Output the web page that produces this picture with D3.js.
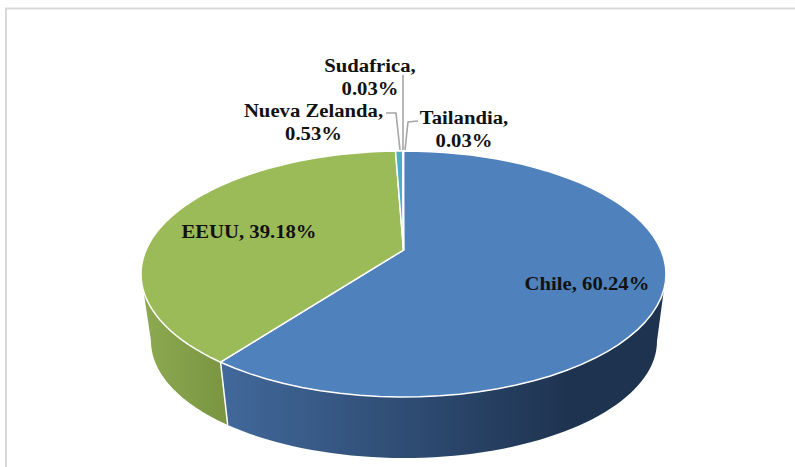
<!DOCTYPE html>
<html><head><meta charset="utf-8">
<script src="https://cdn.jsdelivr.net/npm/d3@7/dist/d3.min.js"></script>
<style>html,body{margin:0;padding:0;background:#fff}svg{display:block}</style>
</head><body><script>
const categories = ["Chile","EEUU","Nueva Zelanda","Sudafrica","Tailandia"];
const shares = [60.24,39.18,0.53,0.03,0.03];
const labelLines = [["Chile, 60.24%"],["EEUU, 39.18%"],["Nueva Zelanda,","0.53%"],["Sudafrica,","0.03%"],["Tailandia,","0.03%"]];
const topColors = ["#4f81bd","#9bbb59","#4bacc6","#4bacc6","#4f81bd"];
const labelAnchor = [[587,290],[249,238],[313.5,117],[370,72],[464,124]];
const leaders = [null,null,[[386,113],[396,113],[400,150]],[[403,75],[403,150]],[[418,121],[408,122],[405,150]]];

const W=795,H=467;
const svg=d3.select("body").append("svg").attr("width",W).attr("height",H);
const defs=svg.append("defs");
function grad(id,x1,x2,c1,c2){
  const g=defs.append("linearGradient").attr("id",id).attr("gradientUnits","userSpaceOnUse")
    .attr("x1",x1).attr("x2",x2).attr("y1",0).attr("y2",0);
  g.append("stop").attr("offset",0).attr("stop-color",c1);
  g.append("stop").attr("offset",1).attr("stop-color",c2);
}
grad("wallBlue",225,570,"#41689a","#1e3350");
grad("wallGreen",150,228,"#8ba84f","#7a9440");

svg.append("rect").attr("x",6).attr("y",8.5).attr("width",W+20).attr("height",H+20)
  .attr("fill","#fff").attr("stroke","#d9d9d9").attr("stroke-width",2);

// perspective: the disk centre sits above the ellipse centre
const beta=-0.195;
const topX=d3.scaleLinear().domain([-1,1]).range([141,666]);
const topY=d3.scaleLinear().domain([-1,1]).range([151,397]);
const botX=d3.scaleLinear().domain([-1,1]).range([151,657]);
const botY=d3.scaleLinear().domain([-1,1]).range([224,458]);
function proj(a){
  const x=Math.sin(a),y=-Math.cos(a),w=1+beta*y;
  return [x*Math.sqrt(1-beta*beta)/w,(y+beta)/w];
}
const onTop=a=>{const p=proj(a);return [topX(p[0]),topY(p[1])];};
const onBot=a=>{const p=proj(a);return [botX(p[0]),botY(p[1])];};
const hub=[topX(0),topY(beta)];
const arcs=d3.pie().sort(null)(shares);
const line=d3.line();
const samples=(a0,a1)=>d3.range(0,61).map(i=>a0+(a1-a0)*i/60);

// walls: only the part of the rim facing the viewer
const aRight=Math.acos(beta), aLeft=2*Math.PI-aRight;
const walls=[{i:0,fill:"url(#wallBlue)"},{i:1,fill:"url(#wallGreen)"}];
walls.forEach(w=>{
  const a0=Math.max(arcs[w.i].startAngle,aRight), a1=Math.min(arcs[w.i].endAngle,aLeft);
  const s=samples(a0,a1);
  svg.append("path").attr("d",line(s.map(onTop).concat(s.slice().reverse().map(onBot)))+"Z")
    .attr("fill",w.fill);
});
// seam between the two visible walls
svg.append("path").attr("d",line([onTop(arcs[0].endAngle),onBot(arcs[0].endAngle)]))
  .attr("stroke","#fff").attr("stroke-width",1.5).attr("fill","none");

// top face
arcs.forEach((d,i)=>{
  svg.append("path").attr("d",line([hub].concat(samples(d.startAngle,d.endAngle).map(onTop)))+"Z")
    .attr("fill",topColors[i]).attr("stroke","#fff").attr("stroke-width",1.5).attr("stroke-linejoin","round")
    .attr("data-name",categories[i]);
});

// leader lines
leaders.forEach(l=>{ if(l) svg.append("path").attr("d",line(l)).attr("fill","none").attr("stroke","#a6a6a6").attr("stroke-width",1.6); });

// labels (the reference text is slightly stretched horizontally)
labelLines.forEach((ls,i)=>{
  const t=svg.append("text").attr("text-anchor","middle")
    .attr("transform",`translate(${labelAnchor[i][0]},${labelAnchor[i][1]}) scale(1.09,1)`)
    .attr("font-family","'Liberation Serif',serif").attr("font-weight","bold")
    .attr("font-size",19).attr("fill","#111");
  ls.forEach((s,j)=>t.append("tspan").attr("x",0).attr("y",j*23).text(s));
});
</script></body></html>
